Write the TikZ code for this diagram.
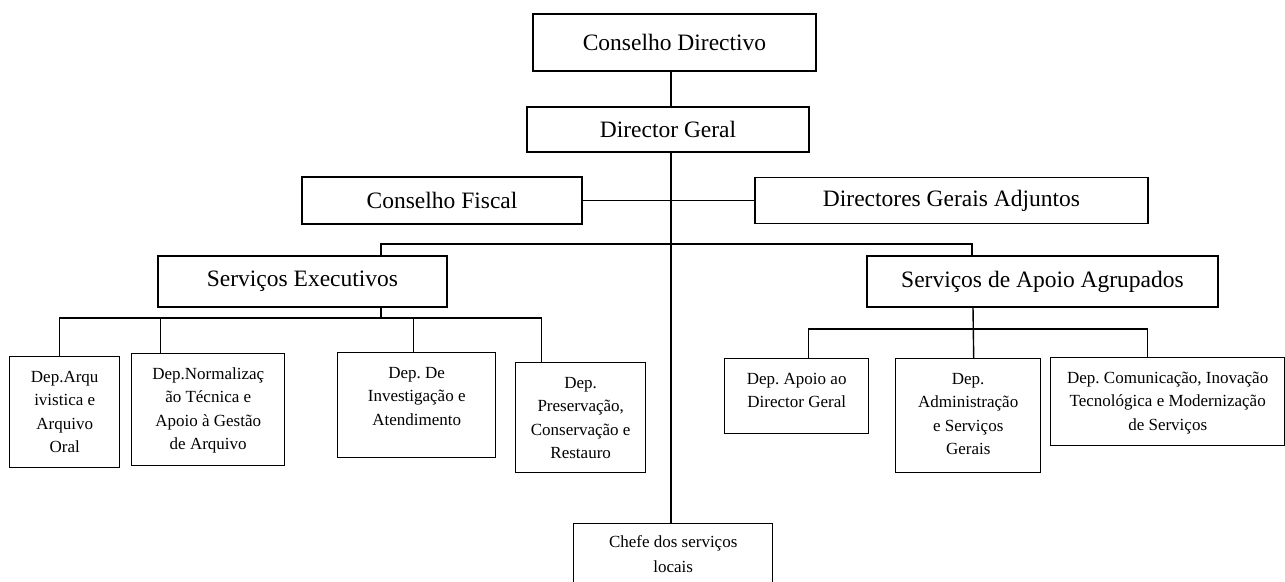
\documentclass[tikz,border=0pt]{standalone}
\usepackage{fontspec}
\setmainfont{Liberation Serif}
\frenchspacing
\newcommand{\dtext}[3]{\parbox[c][#2][t]{#1}{\centering\fontsize{17}{23.5}\selectfont\vspace*{9pt}\strut #3}}
\tikzset{
  orgbox/.style={draw, line width=1.4pt, inner sep=0pt, font=\fontsize{23.5}{28}\selectfont},
  deptbox/.style={draw, line width=1.4pt, inner sep=0pt, anchor=north west},
  link/.style={line width=1.4pt}
}
\begin{document}
\begin{tikzpicture}[x=1pt,y=-1pt]
\useasboundingbox (0,0) rectangle (1285,581);
\fill[white] (0,0) rectangle (1285,581);
% top-level boxes
\node[orgbox, minimum width=283pt, minimum height=57pt] (cd) at (674.5,42.5) {Conselho Directivo};
\node[orgbox, minimum width=282pt, minimum height=45pt] (dg) at (668,129.5) {Director Geral};
\node[orgbox, minimum width=280pt, minimum height=47pt] (cf) at (442,200.5) {Conselho Fiscal};
\node[orgbox, minimum width=393pt, minimum height=46pt] (dga) at (951.5,200.5) {Directores Gerais Adjuntos};
\node[orgbox, minimum width=289pt, minimum height=51pt] (se) at (302.5,281.5) {Serviços Executivos};
\node[orgbox, minimum width=351pt, minimum height=51pt] (sa) at (1042.5,281.5) {Serviços de Apoio Agrupados};
% departments
\node[deptbox] (d1) at (9,356) {\dtext{110pt}{111pt}{Dep.Arqu\\ivistica e\\Arquivo\\Oral}};
\node[deptbox] (d2) at (131,353) {\dtext{153pt}{112pt}{Dep.Normalizaç\\ão Técnica e\\Apoio à Gestão\\de Arquivo}};
\node[deptbox] (d3) at (337,352) {\dtext{158pt}{105pt}{Dep. De\\Investigação e\\Atendimento}};
\node[deptbox] (d4) at (515,362) {\dtext{130pt}{110pt}{Dep.\\Preservação,\\Conservação e\\Restauro}};
\node[deptbox] (d5) at (724,358) {\dtext{144pt}{75pt}{Dep. Apoio ao\\Director Geral}};
\node[deptbox] (d6) at (895,358) {\dtext{145pt}{114pt}{Dep.\\Administração\\e Serviços\\Gerais}};
\node[deptbox] (d7) at (1050,357) {\dtext{234pt}{88pt}{Dep. Comunicação, Inovação\\Tecnológica e Modernização\\de Serviços}};
\node[deptbox] (ch) at (573,523) {\parbox[c][62pt][t]{199pt}{\centering\fontsize{17}{24.5}\selectfont\vspace*{7pt}\strut Chefe dos serviços\\locais}};
% connectors
\coordinate (sp) at (671,0);
\draw[link] (cd.south -| sp) -- (dg.north -| sp);
\draw[link] (dg.south -| sp) -- (ch.north -| sp);
\draw[link] (cf.east) -- (dga.west);
\coordinate (bar) at (671,244);
\draw[link] ([xshift=78.5pt]se.north) |- (bar) -| ([xshift=-70.5pt]sa.north);
\coordinate (eb) at (381,318);
\draw[link] ([xshift=78.5pt]se.south) -- (eb);
\draw[link] ([xshift=-5.5pt]d1.north) |- (eb) -| ([xshift=-39pt]d4.north);
\draw[link] ([xshift=-47.5pt]d2.north) |- (eb);
\draw[link] ([xshift=-3pt]d3.north) |- (eb);
\coordinate (ab) at (973,329);
\draw[link] ([xshift=-69.5pt]sa.south) -- ([xshift=5.5pt]d6.north);
\draw[link] ([xshift=12pt]d5.north) |- (ab) -| ([xshift=-20pt]d7.north);
\end{tikzpicture}
\end{document}
